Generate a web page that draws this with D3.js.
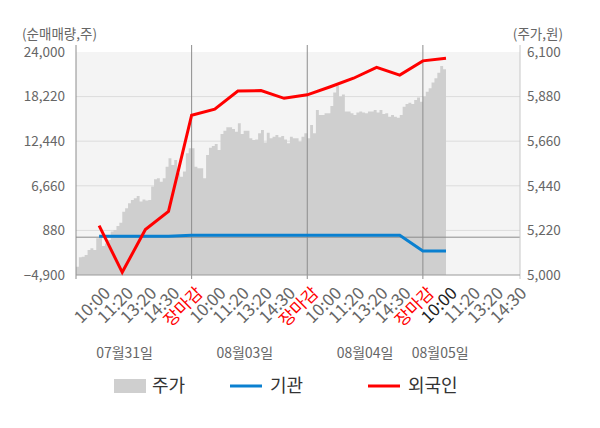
<!DOCTYPE html>
<html>
<head>
<meta charset="utf-8">
<script src="https://cdn.jsdelivr.net/npm/d3@7"></script>
<style>
  html, body { margin: 0; padding: 0; background: #fff; }
  #chart { width: 600px; height: 428px; }
</style>
</head>
<body>
<div id="chart"></div>
<script>
// Day names and intraday tick labels
const dayNames = ["07월31일", "08월03일", "08월04일", "08월05일"];
const dayLabelAt = [2.1, 7.3, 12.5, 15.75];
const timeLabels = [
  "10:00", "11:20", "13:20", "14:30", "장마감",
  "10:00", "11:20", "13:20", "14:30", "장마감",
  "10:00", "11:20", "13:20", "14:30", "장마감",
  "10:00", "11:20", "13:20", "14:30"
];

// Share price (원), sampled evenly through each trading day
const priceDay1 = [
  5041, 5087, 5090, 5099, 5123, 5132, 5123, 5181, 5189, 5143,
  5156, 5173, 5214, 5222, 5242, 5258, 5312, 5329, 5354, 5370,
  5378, 5390, 5362, 5373, 5367, 5370, 5436, 5472, 5477, 5460,
  5477, 5534, 5576, 5543, 5567, 5502, 5485, 5510, 5600, 5625
];
const priceDay2 = [
  5625, 5534, 5526, 5526, 5477, 5592, 5628, 5636, 5646, 5617,
  5696, 5712, 5729, 5729, 5720, 5707, 5748, 5696, 5712, 5712,
  5674, 5666, 5669, 5699, 5715, 5653, 5702, 5674, 5682, 5691,
  5679, 5686, 5669, 5650, 5682, 5674, 5674, 5658, 5682, 5699
];
const priceDay3 = [
  5674, 5740, 5699, 5814, 5789, 5789, 5798, 5798, 5834, 5900,
  5935, 5880, 5890, 5806, 5806, 5798, 5789, 5801, 5806, 5801,
  5798, 5806, 5806, 5814, 5801, 5814, 5794, 5798, 5781, 5789,
  5781, 5776, 5789, 5830, 5844, 5850, 5844, 5863, 5876, 5855
];
const priceDay4 = [5880, 5904, 5921, 5949, 5970, 5998, 6031, 6015, 6036];

// Cumulative net buying (주) at each labelled time
const foreignNet = [1500, -4550, 1000, 3350, 15800, 16600, 18950, 19000, 18000, 18450,
  19500, 20600, 22000, 21000, 22850, 23180];
const instNet = [120, 120, 120, 120, 240, 240, 240, 240, 240, 240,
  240, 240, 240, 240, -1800, -1800];

const leftTicks = [-4900, 880, 6660, 12440, 18220, 24000];
const rightTicks = [5000, 5220, 5440, 5660, 5880, 6100];

const FONT = "'Noto Sans CJK KR', 'Noto Sans', sans-serif";
const SLOTS_PER_DAY = 5;
const SAMPLES_PER_DAY = 40;

function draw_chart(container, width, height) {
  container.innerHTML = "";

  const left = 76, right = 520, top = 52, bottom = 275;

  const svg = d3.create("svg")
    .attr("width", width)
    .attr("height", height)
    .attr("viewBox", [0, 0, width, height])
    .style("font-family", FONT);

  const x = d3.scaleLinear().domain([0, 19.2]).range([left, right]);
  const yL = d3.scaleLinear().domain([-4900, 24000]).range([bottom, top]);
  const yR = d3.scaleLinear().domain([5000, 6100]).range([bottom, top]);

  // Plot background
  svg.append("rect")
    .attr("x", left).attr("y", top)
    .attr("width", right - left).attr("height", bottom - top)
    .attr("fill", "#f4f4f4");

  // Horizontal grid
  svg.append("g")
    .selectAll("line")
    .data(leftTicks.filter(v => v > -4900 && v < 24000))
    .join("line")
    .attr("x1", left).attr("x2", right)
    .attr("y1", d => yL(d)).attr("y2", d => yL(d))
    .attr("stroke", "#dcdcdc")
    .attr("stroke-width", 1);

  // Price series points
  const priceDays = [priceDay1, priceDay2, priceDay3, priceDay4];
  const priceData = priceDays.flatMap((arr, d) =>
    arr.map((p, i) => ({ t: d * SLOTS_PER_DAY + i * SLOTS_PER_DAY / SAMPLES_PER_DAY, p }))
  );

  const area = d3.area()
    .x(d => x(d.t))
    .y0(bottom)
    .y1(d => yR(d.p))
    .curve(d3.curveStepAfter);

  svg.append("path")
    .datum(priceData)
    .attr("d", area)
    .attr("fill", "#cfcfcf");

  // Zero line
  svg.append("line")
    .attr("x1", left).attr("x2", right)
    .attr("y1", yL(0)).attr("y2", yL(0))
    .attr("stroke", "#8c8c8c")
    .attr("stroke-width", 1);

  // Day separators
  const separators = [1, 2, 3].map(d => d * SLOTS_PER_DAY);
  svg.append("g")
    .selectAll("line")
    .data(separators)
    .join("line")
    .attr("x1", d => x(d)).attr("x2", d => x(d))
    .attr("y1", top - 7).attr("y2", bottom + 4)
    .attr("stroke", "#8c8c8c")
    .attr("stroke-width", 1);

  // Axis frame
  svg.append("line")
    .attr("x1", left).attr("x2", left)
    .attr("y1", top - 7).attr("y2", bottom + 4)
    .attr("stroke", "#8c8c8c");
  svg.append("line")
    .attr("x1", right).attr("x2", right)
    .attr("y1", top - 7).attr("y2", bottom + 4)
    .attr("stroke", "#c8c8c8");
  svg.append("line")
    .attr("x1", left).attr("x2", right)
    .attr("y1", bottom).attr("y2", bottom)
    .attr("stroke", "#9a9a9a");

  // Left axis labels
  svg.append("g")
    .attr("transform", `translate(${left},0)`)
    .call(d3.axisLeft(yL).tickValues(leftTicks).tickSize(0).tickPadding(11).tickFormat(d3.format(",")))
    .call(g => g.select(".domain").remove())
    .call(g => g.selectAll("text")
      .attr("fill", "#666")
      .style("font-size", "13.5px")
      .style("font-family", FONT));

  // Right axis labels
  svg.append("g")
    .attr("transform", `translate(${right},0)`)
    .call(d3.axisRight(yR).tickValues(rightTicks).tickSize(0).tickPadding(7).tickFormat(d3.format(",")))
    .call(g => g.select(".domain").remove())
    .call(g => g.selectAll("text")
      .attr("fill", "#666")
      .style("font-size", "13.5px")
      .style("font-family", FONT));

  // Axis titles
  svg.append("text")
    .attr("x", 22).attr("y", 34)
    .attr("dy", "0.35em")
    .attr("fill", "#666")
    .style("font-size", "13.5px")
    .text("(순매매량,주)");
  svg.append("text")
    .attr("x", 563).attr("y", 34)
    .attr("dy", "0.35em")
    .attr("text-anchor", "end")
    .attr("fill", "#666")
    .style("font-size", "13.5px")
    .text("(주가,원)");

  // Time labels, rotated
  const currentIdx = 15;
  svg.append("g")
    .selectAll("text")
    .data(timeLabels)
    .join("text")
    .attr("transform", (d, i) => `translate(${x(i + 1) + 8},290) rotate(-45)`)
    .attr("text-anchor", "end")
    .attr("dy", "0.35em")
    .attr("fill", (d, i) => d === "장마감" ? "#ff0000" : (i === currentIdx ? "#222" : "#666"))
    .style("font-size", "17px")
    .text(d => d);

  // Date labels
  svg.append("g")
    .selectAll("text")
    .data(dayNames)
    .join("text")
    .attr("x", (d, i) => x(dayLabelAt[i]))
    .attr("y", 353)
    .attr("dy", "0.35em")
    .attr("text-anchor", "middle")
    .attr("fill", "#666")
    .style("font-size", "14px")
    .text(d => d);

  // Net buying lines
  const line = d3.line()
    .x((d, i) => x(i + 1))
    .y(d => yL(d));

  svg.append("path")
    .datum(instNet)
    .attr("d", line)
    .attr("fill", "none")
    .attr("stroke", "#0a80d0")
    .attr("stroke-width", 3);

  svg.append("path")
    .datum(foreignNet)
    .attr("d", line)
    .attr("fill", "none")
    .attr("stroke", "#ff0000")
    .attr("stroke-width", 3);

  // Legend
  const legend = svg.append("g").style("font-size", "18px");
  legend.append("rect")
    .attr("x", 114).attr("y", 379)
    .attr("width", 32).attr("height", 14)
    .attr("fill", "#cfcfcf");
  legend.append("text")
    .attr("x", 152).attr("y", 386).attr("dy", "0.35em")
    .attr("fill", "#333").text("주가");

  legend.append("line")
    .attr("x1", 230).attr("x2", 262)
    .attr("y1", 386).attr("y2", 386)
    .attr("stroke", "#0a80d0").attr("stroke-width", 3);
  legend.append("text")
    .attr("x", 270).attr("y", 386).attr("dy", "0.35em")
    .attr("fill", "#333").text("기관");

  legend.append("line")
    .attr("x1", 368).attr("x2", 400)
    .attr("y1", 386).attr("y2", 386)
    .attr("stroke", "#ff0000").attr("stroke-width", 3);
  legend.append("text")
    .attr("x", 408).attr("y", 386).attr("dy", "0.35em")
    .attr("fill", "#333").text("외국인");

  container.append(svg.node());
}

draw_chart(document.getElementById("chart"), 600, 428);
</script>
</body>
</html>
